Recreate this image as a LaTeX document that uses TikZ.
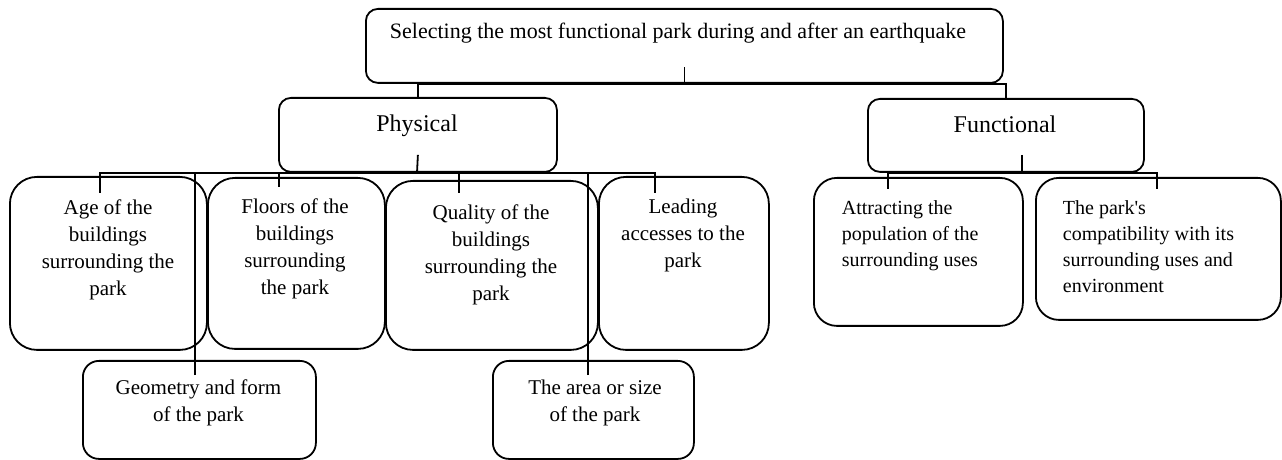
\documentclass[tikz,border=0pt]{standalone}
\usepackage{fontspec}
\setmainfont{Liberation Serif}
\begin{document}
\begin{tikzpicture}[x=0.5pt,y=-0.5pt, line width=0.9pt,
  bx/.style={draw, inner sep=0pt, anchor=north west},
  headbox/.style={bx, rounded corners=6pt},
  tallbox/.style={bx, rounded corners=13.5pt},
  lowbox/.style={bx, rounded corners=8pt},
  funbox/.style={bx, rounded corners=11.5pt},
  toptext/.style={inner sep=0pt, anchor=base west, font=\fontsize{11}{13}\selectfont},
  headtext/.style={inner sep=0pt, anchor=base, font=\fontsize{12}{14}\selectfont},
  subtext/.style={inner sep=0pt, anchor=north, align=center, font=\fontsize{10.5}{13.4}\selectfont},
  funtext/.style={inner sep=0pt, anchor=north west, align=left, font=\fontsize{10}{13}\selectfont},
]
\useasboundingbox (0,0) rectangle (1282,460);

% top box
\node[headbox, minimum width=318.5pt, minimum height=37pt] (top) at (365,8) {};
\node[toptext] (toptxt) at (389,39) {Selecting the most functional park during and after an earthquake};

% second level
\node[headbox, minimum width=139pt, minimum height=37pt] (phys) at (278,97) {};
\node[headtext] (phystxt) at (417,132) {Physical};
\node[headbox, minimum width=138pt, minimum height=36.5pt] (func) at (867,98) {};
\node[headtext] (functxt) at (1005,133) {Functional};

% physical sub-criteria, first row
\node[tallbox, minimum width=98.5pt, minimum height=86.5pt] (age) at (9,176) {};
\node[subtext] (agetxt) at (108,199) {Age of the\\buildings\\surrounding the\\park};
\node[tallbox, minimum width=88.5pt, minimum height=85.5pt] (floors) at (207,177) {};
\node[subtext] (floorstxt) at (295,198) {Floors of the\\buildings\\surrounding\\the park};
\node[tallbox, minimum width=106pt, minimum height=84.5pt] (quality) at (385,180) {};
\node[subtext] (qualitytxt) at (491,204) {Quality of the\\buildings\\surrounding the\\park};
\node[tallbox, minimum width=85pt, minimum height=86.5pt] (leading) at (598,176) {};
\node[subtext] (leadingtxt) at (683,198) {Leading\\accesses to the\\park};

% physical sub-criteria, second row
\node[lowbox, minimum width=116.5pt, minimum height=49pt] (geom) at (82,360) {};
\node[subtext] (geomtxt) at (198.5,379) {Geometry and form\\of the park};
\node[lowbox, minimum width=100.5pt, minimum height=49pt] (area) at (492,360) {};
\node[subtext] (areatxt) at (595,379) {The area or size\\of the park};

% functional sub-criteria
\node[funbox, minimum width=104.5pt, minimum height=74pt] (attr) at (813,177) {};
\node[funtext] (attrtxt) at (841,200) {Attracting the\\population of the\\surrounding uses};
\node[funbox, minimum width=122.5pt, minimum height=71pt] (compat) at (1035,177) {};
\node[funtext] (compattxt) at (1062,200) {The park\textquotesingle s\\compatibility with its\\surrounding uses and\\environment};

% connectors: top level
\draw (top.south) -- ++(0,-17);
\draw (phys.north) -- ++(0,-13) -| (func.north);

% connectors: physical
\coordinate (pbus) at (417,173);
\coordinate (ageT) at (100,193);
\coordinate (floT) at (279,187);
\coordinate (quaT) at (459,193);
\coordinate (leaT) at (655,193);
\coordinate (geoT) at (195,375);
\coordinate (areT) at (588,375);
\draw (phys.south) ++(0,-18) -- (pbus);
\draw (ageT) |- (leaT |- pbus) -- (leaT);
\draw (floT) -- (floT |- pbus);
\draw (quaT) -- (quaT |- pbus);
\draw (geoT) -- (geoT |- pbus);
\draw (areT) -- (areT |- pbus);

% connectors: functional
\coordinate (fT) at (1022,155);
\coordinate (fbus) at (1022,173);
\coordinate (attT) at (888,189);
\coordinate (comT) at (1157,189);
\draw (fT) -- (fbus);
\draw (attT) |- (comT |- fbus) -- (comT);
\end{tikzpicture}
\end{document}
